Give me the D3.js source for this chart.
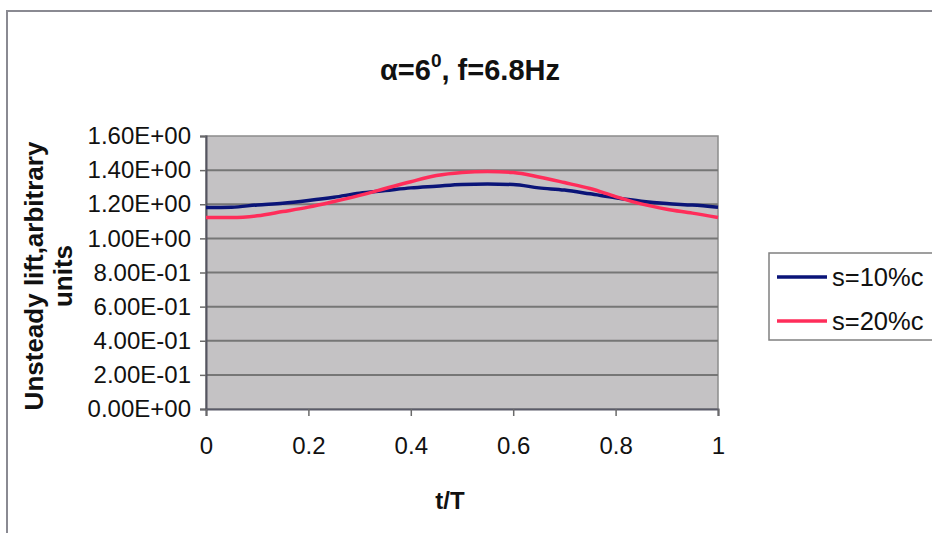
<!DOCTYPE html>
<html>
<head>
<meta charset="utf-8">
<script src="https://cdn.jsdelivr.net/npm/d3@7/dist/d3.min.js"></script>
<style>
  html, body { margin: 0; padding: 0; background: #ffffff; }
  svg { display: block; }
</style>
</head>
<body>
<svg id="chart" width="932" height="533"></svg>
<script>
// ---- data ----
const tValues = [0, 0.05, 0.1, 0.15, 0.2, 0.25, 0.3, 0.35, 0.4, 0.45, 0.5,
                 0.55, 0.6, 0.65, 0.7, 0.75, 0.8, 0.85, 0.9, 0.95, 1];
const s10 = [1.181, 1.183, 1.196, 1.206, 1.222, 1.241, 1.265, 1.280, 1.296, 1.306, 1.316,
             1.318, 1.316, 1.296, 1.283, 1.261, 1.238, 1.218, 1.204, 1.195, 1.183];
const s20 = [1.122, 1.122, 1.132, 1.157, 1.183, 1.216, 1.252, 1.292, 1.332, 1.368, 1.386,
             1.392, 1.386, 1.360, 1.327, 1.292, 1.245, 1.202, 1.171, 1.148, 1.122];
const seriesNames = ["s=10%c", "s=20%c"];
const seriesColors = ["#0a1478", "#ff2d5a"];
const yTicks = [0, 0.2, 0.4, 0.6, 0.8, 1.0, 1.2, 1.4, 1.6];
const yTickLabels = ["0.00E+00", "2.00E-01", "4.00E-01", "6.00E-01", "8.00E-01",
                     "1.00E+00", "1.20E+00", "1.40E+00", "1.60E+00"];
const xTicks = [0, 0.2, 0.4, 0.6, 0.8, 1];
const xTickLabels = ["0", "0.2", "0.4", "0.6", "0.8", "1"];

// ---- layout ----
const svg = d3.select("#chart");
const plot = { left: 206, top: 136, right: 718, bottom: 409 };
const x = d3.scaleLinear().domain([0, 1]).range([plot.left, plot.right]);
const y = d3.scaleLinear().domain([0, 1.6]).range([plot.bottom, plot.top]);
const font = "Arial, 'Liberation Sans', sans-serif";

// outer chart border
svg.append("path")
  .attr("d", "M7,533 L7,11 L932,11")
  .attr("fill", "none").attr("stroke", "#8a8a92").attr("stroke-width", 2);

// plot area background
svg.append("rect")
  .attr("x", plot.left).attr("y", plot.top)
  .attr("width", plot.right - plot.left).attr("height", plot.bottom - plot.top)
  .attr("fill", "#c4c2c4").attr("stroke", "#8c8c8c").attr("stroke-width", 1.5);

// gridlines
svg.append("g").selectAll("line")
  .data(yTicks.filter(d => d > 0 && d < 1.6))
  .join("line")
  .attr("x1", plot.left).attr("x2", plot.right)
  .attr("y1", d => y(d)).attr("y2", d => y(d))
  .attr("stroke", "#767676").attr("stroke-width", 2);

// y axis
const yAxis = d3.axisLeft(y).tickValues(yTicks)
  .tickFormat((d, i) => yTickLabels[i]).tickSize(6).tickPadding(9);
const gy = svg.append("g").attr("transform", `translate(${plot.left},0)`).call(yAxis);
gy.select(".domain").attr("stroke", "#555560").attr("stroke-width", 2);
gy.selectAll(".tick line").attr("stroke", "#6a6a6a").attr("stroke-width", 1.5);
gy.selectAll(".tick text").attr("font-family", font).attr("font-size", 24)
  .attr("fill", "#111");

// x axis
const xAxis = d3.axisBottom(x).tickValues(xTicks)
  .tickFormat((d, i) => xTickLabels[i]).tickSize(7).tickPadding(21);
const gx = svg.append("g").attr("transform", `translate(0,${plot.bottom})`).call(xAxis);
gx.select(".domain").attr("stroke", "#5a5a68").attr("stroke-width", 2);
gx.selectAll(".tick line").attr("stroke", "#6a6a6a").attr("stroke-width", 1.5);
gx.selectAll(".tick text").attr("font-family", font).attr("font-size", 24)
  .attr("fill", "#111");

// series lines
const line = d3.line().x((d, i) => x(tValues[i])).y(d => y(d)).curve(d3.curveMonotoneX);
[s10, s20].forEach((s, k) => {
  svg.append("path").datum(s)
    .attr("d", line)
    .attr("fill", "none")
    .attr("stroke", seriesColors[k])
    .attr("stroke-width", 3.5)
    .attr("stroke-linejoin", "round");
});

// title
const title = svg.append("text")
  .attr("x", 470).attr("y", 80)
  .attr("text-anchor", "middle")
  .attr("font-family", font).attr("font-size", 29).attr("font-weight", "bold")
  .attr("fill", "#111");
title.append("tspan").text("α=6");
title.append("tspan").attr("dy", -13).attr("font-size", 19).text("0");
title.append("tspan").attr("dy", 13).text(", f=6.8Hz");

// x axis title
svg.append("text")
  .attr("x", 450).attr("y", 509)
  .attr("text-anchor", "middle")
  .attr("font-family", font).attr("font-size", 24).attr("font-weight", "bold")
  .attr("fill", "#111")
  .text("t/T");

// y axis title (two lines, rotated)
const yt = svg.append("text")
  .attr("transform", "translate(43,276) rotate(-90)")
  .attr("text-anchor", "middle")
  .attr("font-family", font).attr("font-size", 26).attr("font-weight", "bold")
  .attr("fill", "#111");
yt.append("tspan").attr("x", 0).attr("y", 0).text("Unsteady lift,arbitrary");
yt.append("tspan").attr("x", 0).attr("y", 29).text("units");

// legend
const legend = svg.append("g");
legend.append("rect")
  .attr("x", 769).attr("y", 253).attr("width", 170).attr("height", 87)
  .attr("fill", "#fff").attr("stroke", "#808080").attr("stroke-width", 1.5);
seriesNames.forEach((name, k) => {
  const ly = 277 + k * 44;
  legend.append("line")
    .attr("x1", 777).attr("x2", 827).attr("y1", ly).attr("y2", ly)
    .attr("stroke", seriesColors[k]).attr("stroke-width", 3.5);
  legend.append("text")
    .attr("x", 832).attr("y", ly).attr("dy", "0.35em")
    .attr("font-family", font).attr("font-size", 25.5)
    .attr("fill", "#111")
    .text(name);
});
</script>
</body>
</html>
